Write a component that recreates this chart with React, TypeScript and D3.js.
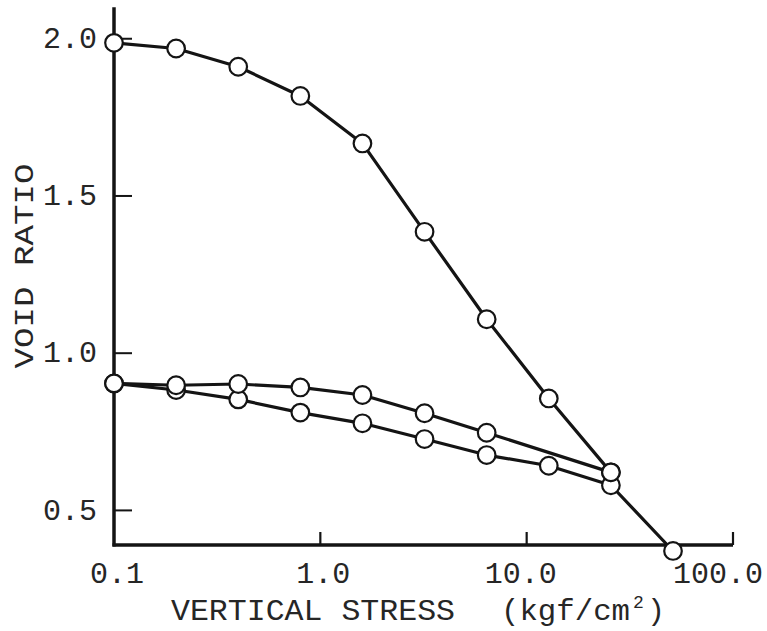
import React from 'react';
import * as d3 from 'd3';

// Virgin loading curve
const loadStress = [0.1, 0.2, 0.4, 0.8, 1.6, 3.2, 6.4, 12.8, 25.6];
const loadVoid = [1.987, 1.969, 1.911, 1.818, 1.667, 1.386, 1.108, 0.856, 0.621];
// Unloading curve
const unloadStress = [25.6, 6.4, 3.2, 1.6, 0.8, 0.4, 0.2, 0.1];
const unloadVoid = [0.621, 0.747, 0.809, 0.867, 0.891, 0.902, 0.898, 0.904];
// Reloading curve
const reloadStress = [0.1, 0.2, 0.4, 0.8, 1.6, 3.2, 6.4, 12.8, 25.6, 51.2];
const reloadVoid = [0.904, 0.883, 0.853, 0.811, 0.777, 0.727, 0.676, 0.642, 0.58, 0.371];

const xTicks = [0.1, 1, 10, 100];
const xTickLabels = ['0.1', '1.0', '10.0', '100.0'];
const yTicks = [0.5, 1.0, 1.5, 2.0];
const yTickLabels = ['0.5', '1.0', '1.5', '2.0'];

const FONT = '"Liberation Mono", "DejaVu Sans Mono", monospace';
const INK = '#141414';
const TXT = '#262626';

export default function App() {
  const W = 767;
  const H = 631;
  const x = d3.scaleLog().domain([0.1, 100]).range([114, 733]);
  const y = d3.scaleLinear().domain([0.39, 2.1]).range([545, 7.3]);
  const line = d3
    .line<[number, number]>()
    .x((d) => x(d[0]))
    .y((d) => y(d[1]))
    .curve(d3.curveLinear);

  const zip = (a: number[], b: number[]) => a.map((v, i) => [v, b[i]] as [number, number]);
  const load = zip(loadStress, loadVoid);
  const unload = zip(unloadStress, unloadVoid);
  const reload = zip(reloadStress, reloadVoid);

  const axisY = y.range()[0];
  const axisX = x.range()[0];
  const cw = 18; // monospace pitch at 30px

  return (
    <svg
      width={W}
      height={H}
      viewBox={`0 0 ${W} ${H}`}
      style={{ position: 'absolute', left: 0, top: 0, background: '#fff' }}
    >
      <rect width={W} height={H} fill="#fff" />
      {/* axes */}
      <line x1={axisX} y1={y.range()[1]} x2={axisX} y2={axisY + 1.5} stroke={INK} strokeWidth={3.5} />
      <line x1={axisX - 1.5} y1={axisY} x2={x.range()[1]} y2={axisY} stroke={INK} strokeWidth={3.5} />
      {yTicks.map((t) => (
        <line key={'yt' + t} x1={axisX} x2={axisX + 18} y1={y(t)} y2={y(t)} stroke={INK} strokeWidth={2} />
      ))}
      {xTicks.slice(1).map((t) => (
        <line key={'xt' + t} x1={x(t)} x2={x(t)} y1={axisY} y2={axisY - 13} stroke={INK} strokeWidth={2.2} />
      ))}
      {/* tick labels */}
      {yTicks.map((t, i) => (
        <text
          key={'yl' + t}
          x={97}
          y={y(t) - 1}
          dy="0.34em"
          textAnchor="end"
          fontFamily={FONT}
          fontSize={30}
          fill={TXT}
        >
          {yTickLabels[i]}
        </text>
      ))}
      {xTicks.map((t, i) => {
        const lab = xTickLabels[i];
        const k = lab.indexOf('.');
        const start = x(t) - (k + 0.5) * cw + 3;
        return (
          <text key={'xl' + t} x={start} y={583} fontFamily={FONT} fontSize={30} fill={TXT}>
            {lab}
          </text>
        );
      })}
      {/* axis titles */}
      <text x={171} y={620} fontFamily={FONT} fontSize={30} fill={TXT} textLength={284} lengthAdjust="spacingAndGlyphs">
        VERTICAL STRESS
      </text>
      <text x={501} y={620} fontFamily={FONT} fontSize={30} fill={TXT} textLength={129} lengthAdjust="spacingAndGlyphs">
        (kgf/cm
      </text>
      <text x={633} y={608} fontFamily={FONT} fontSize={18} fill={TXT}>
        2
      </text>
      <text x={647} y={620} fontFamily={FONT} fontSize={30} fill={TXT}>
        )
      </text>
      <text
        transform="translate(33,266) rotate(-90)"
        textAnchor="middle"
        fontFamily={FONT}
        fontSize={28}
        fill={TXT}
        textLength={205}
        lengthAdjust="spacingAndGlyphs"
      >
        VOID RATIO
      </text>
      {/* curves */}
      <path d={line(reload) || ''} fill="none" stroke={INK} strokeWidth={3.2} strokeLinejoin="round" />
      <path d={line(unload) || ''} fill="none" stroke={INK} strokeWidth={3.2} strokeLinejoin="round" />
      <path d={line(load) || ''} fill="none" stroke={INK} strokeWidth={3.2} strokeLinejoin="round" />
      {/* markers */}
      {[reload, unload, load].map((ser, si) =>
        ser.map((d, i) => (
          <circle
            key={`c${si}-${i}`}
            cx={x(d[0])}
            cy={y(d[1])}
            r={8.8}
            fill="#fff"
            stroke={INK}
            strokeWidth={2.2}
          />
        ))
      )}
    </svg>
  );
}
